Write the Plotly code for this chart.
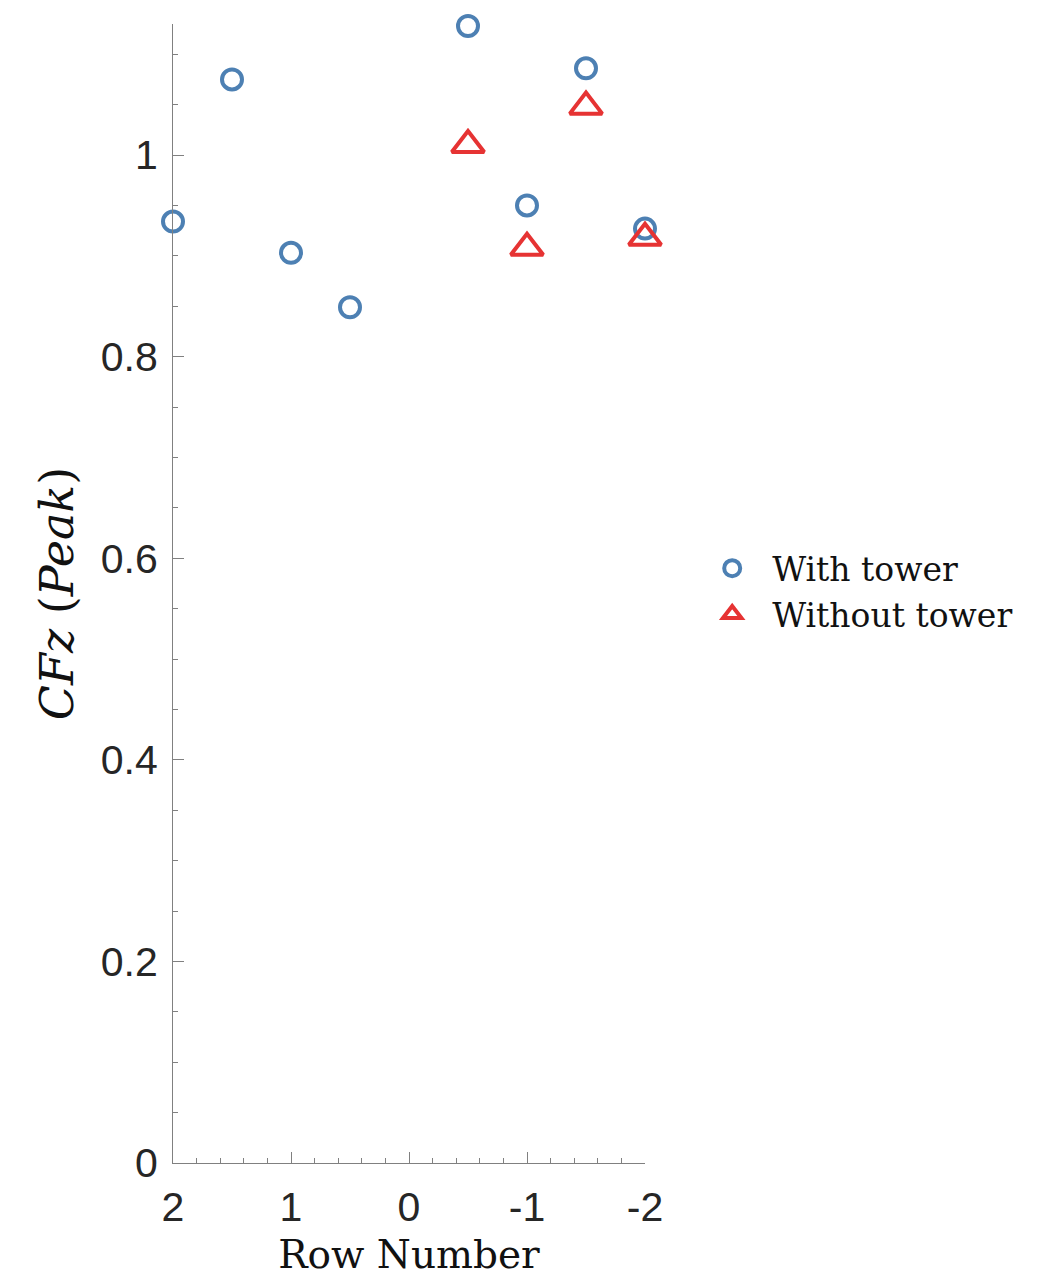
import plotly.graph_objects as go

# ---- data ----
row_with = [2, 1.5, 1, 0.5, -0.5, -1, -1.5, -2]
cfz_with = [0.934, 1.075, 0.903, 0.849, 1.128, 0.950, 1.086, 0.927]

row_without = [-0.5, -1, -1.5, -2]
cfz_without = [1.010, 0.908, 1.048, 0.918]

x_tickvals = [2, 1, 0, -1, -2]
x_ticktext = ["2", "1", "0", "-1", "-2"]
y_tickvals = [0, 0.2, 0.4, 0.6, 0.8, 1.0]
y_ticktext = ["0", "0.2", "0.4", "0.6", "0.8", "1"]

blue = "#4D80B3"
red = "#E63333"
axis_color = "#808080"
label_color = "#262626"

fig = go.Figure()
fig.add_trace(go.Scatter(
    x=row_with, y=cfz_with, mode="markers", name="With tower",
    cliponaxis=False,
    marker=dict(symbol="circle-open", size=20, color=blue,
                line=dict(width=4, color=blue)),
))
fig.add_trace(go.Scatter(
    x=row_without, y=cfz_without, mode="markers", name="Without tower",
    cliponaxis=False,
    marker=dict(symbol="triangle-up-open", size=28, color=red,
                line=dict(width=4, color=red)),
))

fig.update_layout(
    width=1048, height=1277,
    margin=dict(l=173, r=403, t=24, b=114),
    plot_bgcolor="white", paper_bgcolor="white",
    showlegend=True,
    legend=dict(
        x=1.10, y=0.502, xanchor="left", yanchor="middle",
        font=dict(family="DejaVu Serif", size=33, color="#111111"),
        bgcolor="rgba(0,0,0,0)", itemsizing="trace", itemwidth=70,
    ),
    xaxis=dict(
        range=[2, -2], autorange=False, automargin=False,
        showline=True, linecolor=axis_color, linewidth=1.2,
        showgrid=False, zeroline=False, mirror=False,
        ticks="inside", ticklen=11, tickwidth=1.2, tickcolor=axis_color,
        tickvals=x_tickvals, ticktext=x_ticktext,
        ticklabelstandoff=8,
        tickfont=dict(family="Liberation Sans", size=41, color=label_color),
        minor=dict(dtick=0.2, ticks="inside", ticklen=5, tickwidth=1.2,
                   tickcolor=axis_color, showgrid=False),
        title=dict(text="Row Number",
                   font=dict(family="DejaVu Serif", size=39, color="#111111"),
                   standoff=12),
    ),
    yaxis=dict(
        range=[0, 1.13], autorange=False, automargin=False,
        showline=True, linecolor=axis_color, linewidth=1.2,
        showgrid=False, zeroline=False, mirror=False,
        ticks="inside", ticklen=11, tickwidth=1.2, tickcolor=axis_color,
        tickvals=y_tickvals, ticktext=y_ticktext,
        ticklabelstandoff=6,
        tickfont=dict(family="Liberation Sans", size=41, color=label_color),
        minor=dict(dtick=0.05, ticks="inside", ticklen=5, tickwidth=1.2,
                   tickcolor=axis_color, showgrid=False),
        title=dict(text="<i>CFz</i> (<i>Peak</i>)",
                   font=dict(family="DejaVu Serif", size=46, color="#111111"),
                   standoff=12),
    ),
)

fig.write_html("out.html")
